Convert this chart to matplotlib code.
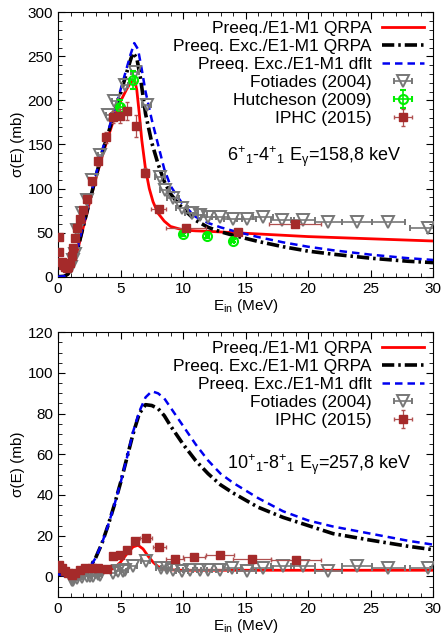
import numpy as np
import matplotlib
matplotlib.use("Agg")
import matplotlib.pyplot as plt
from matplotlib.ticker import MultipleLocator

plt.rcParams['font.family'] = ['Liberation Sans', 'DejaVu Sans']
plt.rcParams['mathtext.fontset'] = 'custom'
plt.rcParams['mathtext.rm'] = 'Liberation Sans'
plt.rcParams['mathtext.it'] = 'Liberation Sans'
plt.rcParams['mathtext.default'] = 'regular'

# ---- top panel: 6+1 - 4+1 ----
e_red1 = [0.0, 0.5, 0.8, 1.0, 1.3, 1.6, 2.0, 2.5, 3.0, 3.5, 4.0, 4.5, 5.0, 5.5, 5.8, 6.0, 6.15, 6.3, 6.5,
          6.7, 7.0, 7.3, 7.6, 8.0, 8.5, 9.0, 10, 11, 12, 14, 16, 18, 20, 22, 25, 28, 30]
s_red1 = [0, 0.5, 3, 8, 18, 32, 55, 83, 110, 135, 158, 180, 199, 213, 220, 223, 222, 212, 185,
          155, 122, 100, 85, 72, 63, 57, 53, 52, 51.5, 50, 48.5, 47, 45.5, 44.5, 43, 41.5, 40.5]
e_blk1 = [0, 0.5, 0.8, 1.0, 1.3, 1.6, 2.0, 2.5, 3.0, 3.5, 4.0, 4.5, 5.0, 5.5, 5.8, 6.0, 6.3, 6.6, 7.0, 7.5,
          8.0, 8.5, 9.0, 9.5, 10, 11, 12, 13, 14, 16, 18, 20, 22, 25, 28, 30]
s_blk1 = [0, 0.5, 3, 8, 19, 33, 56, 84, 112, 139, 162, 185, 208, 232, 246, 254, 248, 225, 185, 152,
          128, 108, 94, 85, 77, 64, 56, 51, 47, 40, 34, 29, 25.5, 21, 17.5, 16]
e_blu1 = [0, 0.5, 0.8, 1.0, 1.3, 1.6, 2.0, 2.5, 3.0, 3.5, 4.0, 4.5, 5.0, 5.5, 5.8, 6.1, 6.4, 6.7, 7.0, 7.5,
          8.0, 8.5, 9.0, 9.5, 10, 11, 12, 13, 14, 16, 18, 20, 22, 25, 28, 30]
s_blu1 = [0, 0.5, 3, 9, 20, 35, 58, 86, 114, 142, 165, 188, 212, 237, 252, 265, 258, 235, 210, 178,
          150, 122, 103, 92, 82, 68, 61, 56, 52, 45, 39, 34, 30, 25, 21, 19]

fot_e1 = [1.04, 1.2, 1.36, 1.5, 1.9, 2.35, 2.7, 3.35, 4.0, 4.5, 5.36, 6.15, 7.09, 8.15, 8.55, 9.2, 9.9,
          10.7, 11.35, 12.0, 12.95, 14.0, 15.1, 16.4, 17.95, 19.6, 21.6, 23.9, 26.4, 29.6]
fot_s1 = [11, 19, 26, 53, 72, 87, 110, 138, 183, 199, 217, 232, 195, 113, 98, 89, 77.5,
          72, 70, 68, 68, 66, 66, 68, 64, 64, 62, 62, 62, 55]
fot_xe1 = [0.05, 0.06, 0.07, 0.08, 0.1, 0.12, 0.14, 0.17, 0.2, 0.22, 0.27, 0.3, 0.35, 0.4, 0.43, 0.46, 0.5,
           0.53, 0.57, 0.6, 0.65, 0.7, 0.75, 0.8, 0.9, 0.98, 1.08, 1.2, 1.32, 1.48]

hut_e = [4.96, 5.97, 9.97, 11.94, 13.96]
hut_s = [193, 223, 48, 46, 41]
hut_se = [8, 10, 2, 2, 2]
hut_xe = [0.2, 0.2, 0.1, 0.1, 0.1]

iphc_e1 = [0.08, 0.08, 0.3, 0.43, 0.56, 0.7, 0.83, 0.96, 1.1, 1.22, 1.36, 1.55, 1.76, 1.97, 2.34, 2.74,
           3.17, 3.81, 4.42, 4.96, 5.54, 6.2, 6.98, 8.07, 10.23, 14.36, 18.97]
iphc_s1 = [44.6, 27.6, 17, 13, 11, 9.5, 11, 15, 23, 32, 43.5, 55, 65, 76, 88, 108.5,
           131, 158, 181.5, 182.7, 188, 171, 118, 76.4, 55.6, 50.3, 59.8]
iphc_se1 = [2, 2, 2, 2, 2, 2, 2, 2, 2, 3, 3, 3, 3, 3, 4, 4,
            5, 6, 7, 8, 10, 12, 5, 4, 3, 3, 3]
iphc_xe1 = [0.05, 0.05, 0.05, 0.05, 0.05, 0.05, 0.05, 0.05, 0.05, 0.05, 0.05, 0.05, 0.05, 0.05, 0.1, 0.1,
            0.1, 0.1, 0.15, 0.15, 0.2, 0.2, 0.3, 0.6, 1.6, 0.3, 2.1]

# ---- bottom panel: 10+1 - 8+1 ----
e_red2 = [0, 0.5, 1, 1.5, 2, 3, 4, 4.5, 5, 5.5, 6, 6.4, 6.8, 7.2, 7.6, 8, 8.5, 9, 10, 12, 15, 20, 25, 30]
s_red2 = [3, 2, 1, 1.5, 2, 2.5, 3, 4, 7, 11, 14.5, 15.3, 13.5, 10, 7, 4.8, 3.6, 3.2, 3, 3, 3, 3, 3, 3]
e_blk2 = [0, 0.5, 1, 1.5, 2, 2.5, 3, 3.5, 4, 4.5, 5, 5.5, 6, 6.5, 7, 7.5, 8, 8.5, 9, 9.5, 10,
          11, 12, 13, 14, 16, 18, 20, 22, 25, 28, 30]
s_blk2 = [1, 0.5, 0.3, 0.5, 1.5, 4, 9, 16, 25, 35, 46, 58, 70, 80, 84.4, 84, 82.5, 79, 74, 69.5, 65,
          57, 50.5, 45, 41, 34, 29, 25, 21, 17.8, 14.8, 13.1]
e_blu2 = [0, 0.5, 1, 1.5, 2, 2.5, 3, 3.5, 4, 4.5, 5, 5.5, 6, 6.5, 7, 7.5, 8, 8.5, 9, 9.5, 10,
          11, 12, 13, 14, 16, 18, 20, 22, 25, 28, 30]
s_blu2 = [1, 0.5, 0.3, 0.5, 1.5, 4, 9, 16, 25, 35, 46, 58, 71, 81, 88, 91, 90, 87.5, 83, 78.5, 74,
          65, 57, 50.5, 46, 38.5, 32, 27.5, 24.5, 21, 17.5, 15.6]

fot_e2 = [1.1, 1.23, 1.5, 1.9, 2.3, 2.55, 2.8, 3.2, 3.35, 4.42, 4.8, 5.2, 5.36, 6.0, 7.0, 8.2, 8.7, 9.2, 9.9,
          10.55, 11.35, 12.0, 12.95, 13.9, 15.1, 16.4, 17.96, 19.6, 21.6, 23.9, 26.4, 29.6]
fot_s2 = [-1.6, -1.6, -0.8, -0.3, 0.3, 0, 0.3, 1.1, 0.8, 1.6, 2.5, 2.5, 3.3, 4.9, 7.4, 4.1, 4.1, 3.3, 2.5,
          3.3, 3, 3.3, 3, 4, 2.5, 4.1, 4.9, 4.9, 2.5, 4.9, 4.1, 4.1]
fot_xe2 = [0.05, 0.06, 0.08, 0.1, 0.12, 0.13, 0.14, 0.16, 0.17, 0.22, 0.24, 0.26, 0.27, 0.3, 0.35, 0.4, 0.43,
           0.46, 0.5, 0.53, 0.57, 0.6, 0.65, 0.7, 0.75, 0.8, 0.9, 0.98, 1.08, 1.2, 1.32, 1.48]

iphc_e2 = [0.1, 0.3, 0.56, 0.83, 1.1, 1.36, 1.76, 2.16, 2.7, 3.2, 3.9, 4.42, 4.96, 5.49, 6.15, 7.03,
           8.1, 9.35, 10.87, 12.96, 15.5, 19.0]
iphc_s2 = [5.7, 4, 2.5, 1.6, 0.8, 1.6, 3.3, 4, 4, 4, 3.6, 9.8, 10.7, 13.1, 17.2, 18.9,
           14.3, 8.5, 9.3, 10.3, 8.7, 7.9]
iphc_se2 = [1, 1, 1, 1, 1, 1, 1, 1, 1, 1, 1, 1, 1, 1, 1.5, 1.5,
            1, 1, 1, 1, 1, 1]
iphc_xe2 = [0.05, 0.05, 0.05, 0.05, 0.05, 0.05, 0.05, 0.1, 0.1, 0.1, 0.1, 0.15, 0.15, 0.2, 0.2, 0.5,
            0.5, 0.7, 0.85, 1.15, 1.5, 2.0]

red = '#ff0000'
brown = '#a52a2a'
gray = '#777777'
green = '#00ee00'

fig = plt.figure(figsize=(4.43, 6.39), dpi=100)
ax1 = fig.add_axes([0.131, 0.567, 0.8465, 0.4138])
ax2 = fig.add_axes([0.131, 0.0662, 0.8465, 0.4138])


def curves(ax, er, sr, ek, sk, eb, sb):
    ax.plot(er, sr, color=red, lw=2.0, label='Preeq./E1-M1 QRPA', zorder=3)
    ax.plot(ek, sk, color='black', lw=2.6, dashes=[3.4, 1.1, 0.7, 1.1],
            label='Preeq. Exc./E1-M1 QRPA', zorder=3)
    ax.plot(eb, sb, color='#0000f0', lw=1.8, dashes=[3.0, 2.0],
            label='Preeq. Exc./E1-M1 dflt', zorder=3)


def style(ax, ymin, ymax, ymaj, ymin_step):
    ax.set_xlim(0, 30)
    ax.set_ylim(ymin, ymax)
    ax.xaxis.set_major_locator(MultipleLocator(5))
    ax.xaxis.set_minor_locator(MultipleLocator(1))
    ax.yaxis.set_major_locator(MultipleLocator(ymaj))
    ax.yaxis.set_minor_locator(MultipleLocator(ymin_step))
    ax.tick_params(which='both', direction='in', top=True, right=True, labelsize=11)
    ax.tick_params(which='major', length=5)
    ax.tick_params(which='minor', length=3)
    ax.set_xlabel(r'E$_{\rm in}$ (MeV)', fontsize=11, labelpad=1)
    ax.set_ylabel(r'σ(E) (mb)', fontsize=11, labelpad=2)
    ax.legend(loc='upper right', bbox_to_anchor=(0.98, 0.975), frameon=False, markerfirst=False,
              fontsize=12.5, handlelength=2.4, handletextpad=0.6, labelspacing=0.17,
              borderpad=0.1, borderaxespad=0)


# top
curves(ax1, e_red1, s_red1, e_blk1, s_blk1, e_blu1, s_blu1)
ax1.errorbar(fot_e1, fot_s1, xerr=fot_xe1, fmt='v', ms=8, mfc='none', mec=gray, mew=1.4,
             ecolor=gray, elinewidth=1.2, capsize=2, color=gray, label='Fotiades (2004)', zorder=4)
ax1.errorbar(hut_e, hut_s, xerr=hut_xe, yerr=hut_se, fmt='o', ms=6.5, mfc='none', mec=green, mew=1.5,
             ecolor=green, elinewidth=1.2, capsize=2, color=green, label='Hutcheson (2009)', zorder=5)
ax1.errorbar(iphc_e1, iphc_s1, xerr=iphc_xe1, yerr=iphc_se1, fmt='s', ms=6, mfc=brown, mec=brown,
             ecolor='#b05050', elinewidth=0.9, capsize=1.5, color=brown, label='IPHC (2015)', zorder=6)
style(ax1, 0, 300, 50, 10)
ax1.text(13.5, 136, r'$6^{+}{}_{1}$-$4^{+}{}_{1}$ E$_{\gamma}$=158,8 keV', fontsize=13, va='center')

# bottom
curves(ax2, e_red2, s_red2, e_blk2, s_blk2, e_blu2, s_blu2)
ax2.errorbar(fot_e2, fot_s2, xerr=fot_xe2, fmt='v', ms=8, mfc='none', mec=gray, mew=1.4,
             ecolor=gray, elinewidth=1.2, capsize=2, color=gray, label='Fotiades (2004)', zorder=4)
ax2.errorbar(iphc_e2, iphc_s2, xerr=iphc_xe2, yerr=iphc_se2, fmt='s', ms=6, mfc=brown, mec=brown,
             ecolor='#b05050', elinewidth=0.9, capsize=1.5, color=brown, label='IPHC (2015)', zorder=6)
style(ax2, -10, 120, 20, 5)
ax2.set_yticks([0, 20, 40, 60, 80, 100, 120])
ax2.text(13.5, 55, r'$10^{+}{}_{1}$-$8^{+}{}_{1}$ E$_{\gamma}$=257,8 keV', fontsize=13, va='center')

fig.savefig('out.png', dpi=100)
